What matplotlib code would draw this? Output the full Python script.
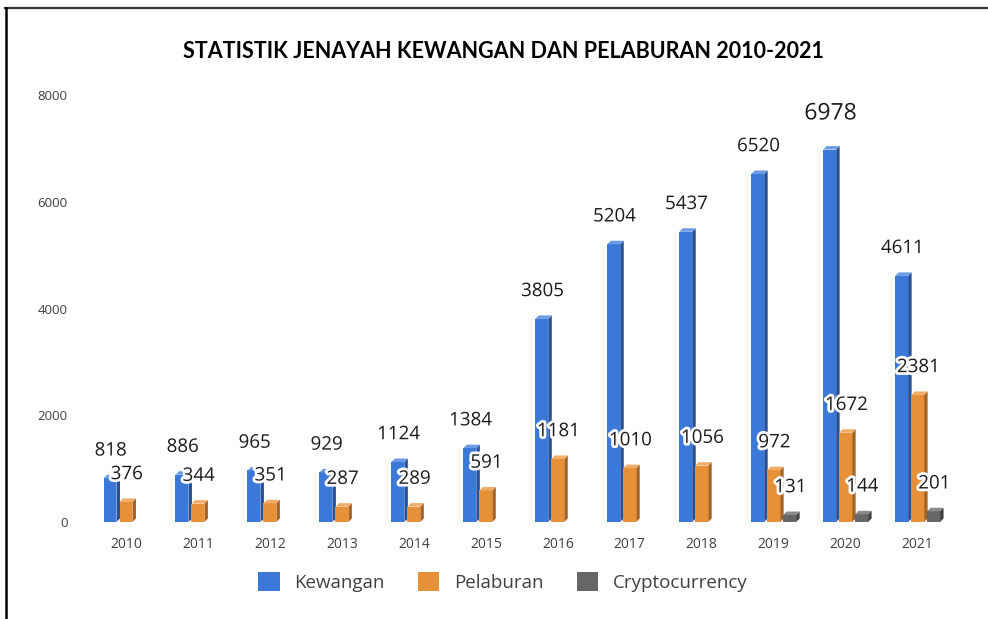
import numpy as np
import matplotlib
matplotlib.use("Agg")
import matplotlib.pyplot as plt
from matplotlib.patches import Patch
from matplotlib.lines import Line2D
import matplotlib.patheffects as pe

# --- data ---
years = ["2010", "2011", "2012", "2013", "2014", "2015",
         "2016", "2017", "2018", "2019", "2020", "2021"]
kewangan = [818, 886, 965, 929, 1124, 1384, 3805, 5204, 5437, 6520, 6978, 4611]
pelaburan = [376, 344, 351, 287, 289, 591, 1181, 1010, 1056, 972, 1672, 2381]
crypto = [0, 0, 0, 0, 0, 0, 0, 0, 0, 131, 144, 201]
series_names = ["Kewangan", "Pelaburan", "Cryptocurrency"]

# --- style ---
FONT = ["Open Sans", "DejaVu Sans"]
plt.rcParams["font.family"] = FONT
front = ["#3b78d8", "#e69138", "#666666"]
side = ["#27509a", "#a8621f", "#404040"]
top = ["#6d9be3", "#f0ad6a", "#8a8a8a"]

W, H = 988, 619
fig = plt.figure(figsize=(W / 100, H / 100), dpi=100)
ax = fig.add_axes([82.8 / W, (H - 522) / H, 878 / W, 427 / H])

x = np.arange(len(years))
bw = 0.18
off = [-0.222, 0.0, 0.222]
dx = 3.5 / 72          # depth in x (data units)
dy = 3.5 * 8000 / 427  # depth in y (data units)

for i, vals in enumerate([kewangan, pelaburan, crypto]):
    for xi, v in zip(x, vals):
        if v <= 0:
            continue
        c = xi + off[i]
        l, r = c - bw / 2, c + bw / 2
        ax.bar(c, v, width=bw, color=front[i], linewidth=0, zorder=2)
        ax.fill([r, r + dx, r + dx, r], [0, dy, v + dy, v], color=side[i], lw=0, zorder=2)
        ax.fill([l, r, r + dx, l + dx], [v, v, v + dy, v + dy], color=top[i], lw=0, zorder=2)
        fs = 16.5 if v == max(kewangan) else 13.5
        yoff = 26 if v == max(kewangan) else 20
        ax.annotate(str(v), (c + 0.01, v), xytext=(0, yoff), textcoords="offset points",
                    ha="center", va="center", fontsize=fs, color="#1a1a1a", zorder=5,
                    path_effects=[pe.withStroke(linewidth=4, foreground="white")])

ax.set_xlim(-0.6, 11.6)
ax.set_ylim(0, 8000)
ax.set_yticks([0, 2000, 4000, 6000, 8000])
ax.set_xticks(x)
ax.set_xticklabels(years)
ax.tick_params(axis="both", length=0, colors="#404040")
ax.tick_params(axis="x", labelsize=10, pad=11)
ax.tick_params(axis="y", labelsize=9.5, pad=11)
for s in ax.spines.values():
    s.set_visible(False)
ax.set_facecolor("none")

fig.text(503 / W, 1 - 52 / H, "STATISTIK JENAYAH KEWANGAN DAN PELABURAN 2010-2021",
         ha="center", va="center", fontsize=15.5, fontweight="bold", color="black",
         family=["Lato", "DejaVu Sans"])

handles = [Patch(facecolor=front[i], edgecolor="none") for i in range(3)]
fig.legend(handles, series_names, loc="center", bbox_to_anchor=(503 / W, 1 - 582 / H),
           ncol=3, frameon=False, fontsize=13.5, labelcolor="#404040",
           handlelength=1.15, handleheight=1.15, handletextpad=0.8, columnspacing=1.75)

# frame lines
fig.add_artist(Line2D([5 / W, 1], [1 - 8 / H, 1 - 8 / H], color="#333333", lw=1.6))
fig.add_artist(Line2D([6 / W, 6 / W], [0, 1 - 8 / H], color="black", lw=1.8))

fig.savefig("out.png", dpi=100)
